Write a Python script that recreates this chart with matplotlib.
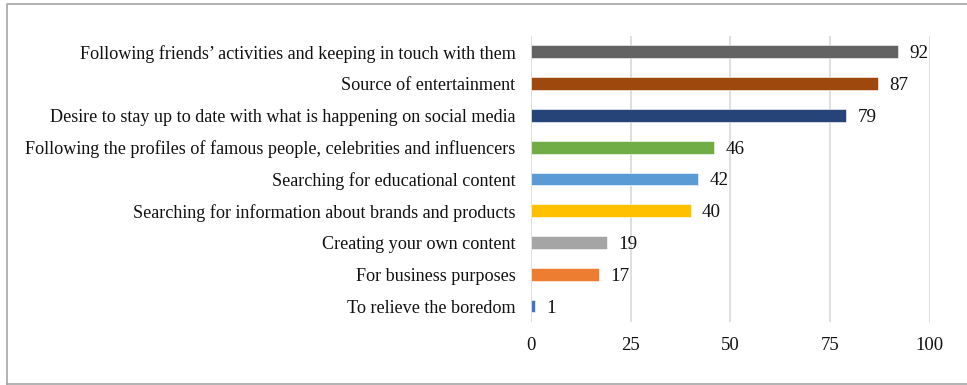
import matplotlib.pyplot as plt
from matplotlib.lines import Line2D

plt.rcParams['font.family'] = ['Liberation Serif', 'DejaVu Serif']

reasons = [
    'Following friends\u2019 activities and keeping in touch with them',
    'Source of entertainment',
    'Desire to stay up to date with what is happening on social media',
    'Following the profiles of famous people, celebrities and influencers',
    'Searching for educational content',
    'Searching for information about brands and products',
    'Creating your own content',
    'For business purposes',
    'To relieve the boredom',
]
counts = [92, 87, 79, 46, 42, 40, 19, 17, 1]
colors = ['#636363', '#9E480E', '#264478', '#70AD47', '#5B9BD5',
          '#FFC000', '#A5A5A5', '#ED7D31', '#4472C4']
ticks = [0, 25, 50, 75, 100]

fs = 13.1
fig = plt.figure(figsize=(9.67, 3.85), dpi=100)
ax = fig.add_axes([0.549, 0.1636, 0.4127, 0.743])

ypos = list(range(len(reasons)))[::-1]
ax.barh(ypos, counts, height=0.4, color=colors, edgecolor='white', linewidth=0.4, zorder=3)
for y, v in zip(ypos, counts):
    ax.text(v + 2.8, y, str(v), va='center_baseline', ha='left', fontsize=fs + 0.6, color='#111111')

ax.set_xlim(0, 100)
ax.set_ylim(-0.5, len(reasons) - 0.5)
ax.set_xticks(ticks)
ax.set_yticks(ypos)
ax.set_yticklabels(reasons, fontsize=fs, color='#111111')
ax.tick_params(axis='x', length=0, pad=11, labelsize=fs + 0.4, labelcolor='#111111')
ax.tick_params(axis='y', length=0, pad=11)
ax.grid(axis='x', color='#d9d9d9', linewidth=1.2, zorder=0)
for s in ax.spines.values():
    s.set_visible(False)

# outer frame
x0, y0, x1, y1 = 7 / 967, 1 - 384 / 385, 1.2, 1 - 4 / 385
fig.add_artist(Line2D([x0, x1, x1, x0, x0], [y0, y0, y1, y1, y0],
                      transform=fig.transFigure, color='#a6a6a6', linewidth=1.2))

fig.savefig('out.png', dpi=100)
